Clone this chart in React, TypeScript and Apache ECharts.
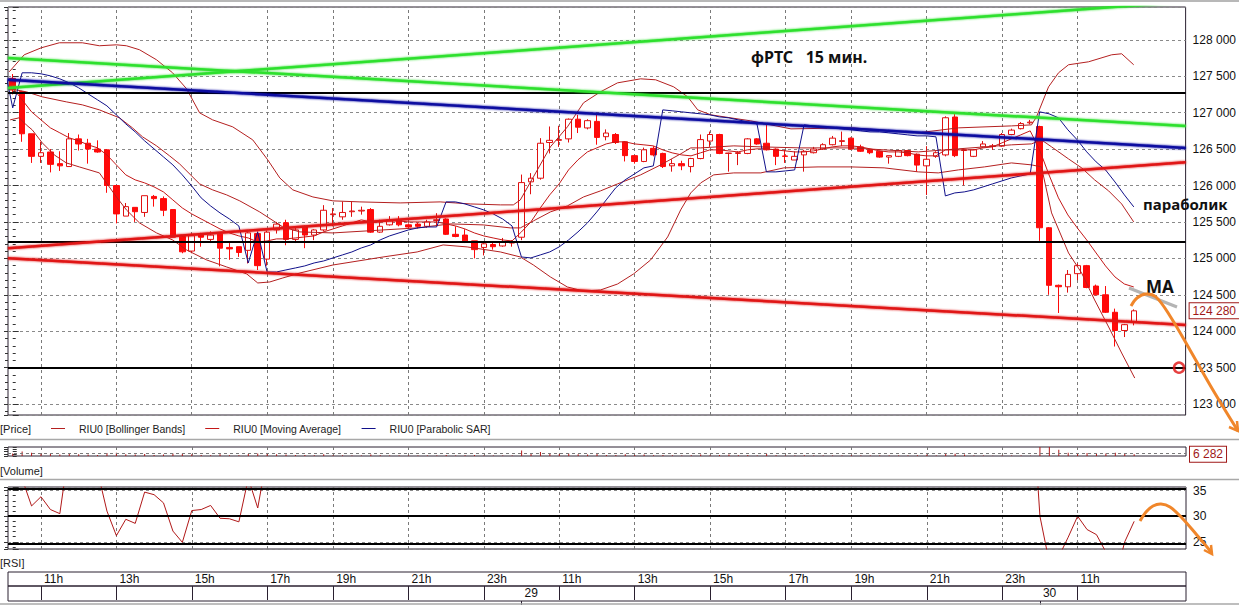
import React, { useEffect, useRef } from "react";
import * as echarts from "echarts";

// ---------- time slots (15 min candles, RIU0) ----------
const sessions: Array<[number, string, string]> = [
  [28, "10:15", "18:30"],
  [28, "19:00", "23:45"],
  [29, "10:00", "18:30"],
  [29, "19:00", "23:45"],
  [30, "10:00", "12:30"],
];
const emptySlotsAfter = 5;

function quarterSlots(day: number, from: string, to: string): string[] {
  const [fh, fm] = from.split(":").map(Number);
  const [th, tm] = to.split(":").map(Number);
  const out: string[] = [];
  for (let t = fh * 60 + fm; t <= th * 60 + tm; t += 15) {
    out.push(`${day} ${String(Math.floor(t / 60)).padStart(2, "0")}:${String(t % 60).padStart(2, "0")}`);
  }
  return out;
}
const categories: string[] = [];
sessions.forEach(([d, a, b]) => categories.push(...quarterSlots(d, a, b)));
for (let k = 1; k <= emptySlotsAfter; k++) categories.push(`+${k}`);

// ---------- candles [open, close, low, high] ----------
const day28Candles: number[][] = [
  [127470, 127310, 127250, 127530], [127290, 126710, 126600, 127300], [126710, 126400, 126310, 126710],
  [126400, 126450, 126310, 126600], [126460, 126290, 126180, 126500], [126300, 126270, 126200, 126470],
  [126260, 126640, 126260, 126720], [126640, 126570, 126480, 126700], [126580, 126500, 126300, 126640],
  [126500, 126460, 126450, 126620], [126490, 126000, 125900, 126500], [126000, 125610, 125480, 126000],
  [125580, 125710, 125580, 125760], [125700, 125640, 125500, 125700], [125630, 125860, 125570, 125860],
  [125850, 125820, 125710, 125870], [125820, 125660, 125580, 125850], [125670, 125290, 125290, 125670],
  [125300, 125090, 125070, 125320], [125100, 125310, 125070, 125340], [125330, 125290, 125160, 125350],
  [125260, 125320, 125210, 125370], [125340, 125140, 124890, 125340], [125150, 125130, 124980, 125210],
  [125160, 125080, 125020, 125160], [125110, 125350, 124930, 125370], [125340, 124900, 124840, 125370],
  [124990, 125360, 124900, 125380], [125390, 125470, 125340, 125500], [125490, 125260, 125180, 125530],
  [125260, 125390, 125210, 125420], [125440, 125320, 125140, 125450], [125320, 125390, 125250, 125400],
  [125390, 125660, 125370, 125730], [125600, 125610, 125440, 125690], [125570, 125630, 125530, 125780],
  [125640, 125650, 125570, 125780], [125650, 125660, 125600, 125710], [125670, 125360, 125350, 125690],
  [125360, 125440, 125350, 125530], [125460, 125530, 125450, 125580], [125530, 125460, 125440, 125580],
  [125460, 125430, 125400, 125480], [125470, 125440, 125410, 125490], [125440, 125500, 125420, 125530],
  [125520, 125530, 125440, 125620], [125540, 125330, 125320, 125550], [125330, 125300, 125290, 125440],
  [125320, 125240, 125210, 125400], [125240, 125120, 125000, 125240], [125150, 125200, 125040, 125230],
  [125190, 125160, 125120, 125210], [125170, 125230, 125160, 125280], [125210, 125220, 125160, 125250],
];
const day29Candles: number[][] = [
  [125290, 126040, 125250, 126150], [126050, 126100, 125880, 126170], [126100, 126580, 126080, 126650],
  [126590, 126620, 126440, 126810], [126620, 126630, 126530, 126820], [126640, 126910, 126590, 126920],
  [126910, 126800, 126720, 126970], [126790, 126890, 126770, 126910], [126880, 126660, 126560, 126970],
  [126670, 126720, 126620, 126770], [126700, 126590, 126570, 126720], [126600, 126410, 126330, 126610],
  [126410, 126330, 126300, 126420], [126330, 126490, 126320, 126520], [126510, 126420, 126400, 126540],
  [126440, 126260, 126240, 126450], [126270, 126300, 126190, 126360], [126300, 126270, 126210, 126340],
  [126260, 126370, 126180, 126380], [126370, 126630, 126360, 126700], [126610, 126700, 126530, 126740],
  [126700, 126440, 126430, 126710], [126440, 126445, 126190, 126450], [126440, 126450, 126280, 126470],
  [126440, 126640, 126430, 126650], [126640, 126570, 126560, 126650], [126580, 126490, 126480, 126850],
  [126500, 126400, 126280, 126510], [126405, 126400, 126310, 126490], [126350, 126400, 126350, 126470],
  [126420, 126470, 126190, 126490], [126450, 126500, 126440, 126530], [126500, 126560, 126490, 126580],
  [126560, 126650, 126550, 126680], [126605, 126615, 126540, 126740], [126650, 126500, 126490, 126660],
  [126530, 126470, 126460, 126560], [126490, 126450, 126430, 126500], [126470, 126390, 126380, 126480],
  [126390, 126410, 126300, 126410], [126400, 126480, 126390, 126490], [126480, 126410, 126400, 126490],
  [126430, 126280, 126190, 126440], [126270, 126360, 125870, 126540], [126400, 126450, 126380, 126470],
  [126420, 126930, 126400, 126950], [126940, 126410, 126390, 126980], [126480, 126490, 126000, 126510],
  [126400, 126490, 126390, 126500], [126530, 126570, 126520, 126610], [126535, 126545, 126490, 126570],
  [126540, 126700, 126530, 126720], [126700, 126760, 126690, 126780], [126780, 126850, 126770, 126870],
  [126860, 126870, 126840, 126900],
];
const day30Candles: number[][] = [
  [126810, 125420, 125240, 126820], [125420, 124630, 124500, 125430], [124630, 124610, 124250, 124640],
  [124610, 124780, 124530, 124840], [124790, 124900, 124700, 124930], [124900, 124600, 124590, 124910],
  [124620, 124500, 124490, 124640], [124500, 124260, 124250, 124620], [124260, 124010, 123790, 124310],
  [124010, 124090, 123920, 124100], [124130, 124280, 124080, 124300],
];
const candles = [...day28Candles, ...day29Candles, ...day30Candles];

// ---------- indicators [slot index, price] ----------
const bbUpper: number[][] = [
  [-0.37, 127560], [1.22, 127794], [3.03, 127890], [4.95, 127959], [7.39, 127959], [9.2, 127918], [11.01, 127931],
  [12.07, 127918], [13.46, 127863], [15.27, 127725], [16.97, 127547], [18.46, 127327], [19.84, 126997], [21.22, 126901],
  [23.35, 126805], [25.48, 126626], [27.07, 126352], [28.35, 126104], [29.73, 125940], [31.86, 125843], [33.99, 125789],
  [36.86, 125775], [41.12, 125761], [45.37, 125775], [48.56, 125747], [51.76, 125734], [53.14, 125734], [53.88, 125802],
  [55.27, 126118], [57.07, 126530], [58.88, 126805], [60.59, 127135], [62.39, 127286], [64.2, 127409], [66.65, 127464],
  [68.24, 127451], [70.16, 127354], [71.65, 127217], [72.71, 127038], [74.1, 126970], [78.35, 126887], [82.61, 126777],
  [89.0, 126791], [96.12, 126723], [100.37, 126791], [106.01, 126818], [108.14, 126832], [108.67, 126942],
  [109.95, 127354], [111.01, 127547], [112.07, 127657], [114.2, 127698], [116.65, 127794], [117.71, 127808], [118.99, 127657],
];
const bbMiddle: number[][] = [
  [-0.4, 127330], [1.44, 127286], [3.14, 127217], [5.69, 127148], [7.39, 127107], [9.2, 127038], [11.33, 126929],
  [12.71, 126791], [13.78, 126668], [15.27, 126544], [16.65, 126407], [17.71, 126297], [19.84, 126022], [21.22, 125940],
  [22.71, 125871], [24.1, 125789], [26.22, 125637], [28.67, 125431], [30.48, 125363], [33.99, 125349], [39.31, 125390],
  [42.93, 125418], [46.44, 125473], [49.95, 125459], [52.82, 125418], [53.88, 125418], [55.27, 125514], [57.07, 125637],
  [58.88, 125720], [60.59, 125843], [62.39, 125926], [64.2, 126022], [66.65, 126146], [68.78, 126283], [70.9, 126434],
  [71.97, 126516], [73.03, 126516], [76.54, 126544], [79.41, 126530], [83.67, 126516], [89.0, 126516], [96.12, 126461],
  [100.37, 126503], [106.01, 126558], [108.14, 126571], [109.2, 126626], [110.27, 126530], [112.07, 126365],
  [113.46, 126242], [114.84, 126077], [116.33, 125926], [117.71, 125747], [118.99, 125500],
];
const bbLower: number[][] = [
  [-0.27, 126901], [0.69, 126929], [1.44, 126832], [2.07, 126764], [3.14, 126585], [4.41, 126420], [5.69, 126310],
  [7.07, 126255], [9.2, 126173], [9.95, 126036], [11.01, 125843], [12.07, 125665], [13.46, 125486], [15.27, 125349],
  [16.97, 125253], [18.46, 125115], [20.59, 124978], [22.71, 124882], [24.84, 124786], [26.01, 124662], [27.29, 124676],
  [28.67, 124731], [30.48, 124799], [33.99, 124909], [39.31, 125019], [42.93, 125088], [45.69, 125184], [48.24, 125157],
  [51.76, 125088], [53.88, 125019], [55.27, 124909], [57.07, 124745], [58.88, 124607], [60.59, 124552], [62.39, 124566],
  [64.2, 124648], [65.9, 124786], [67.71, 124978], [69.52, 125294], [70.9, 125665], [71.97, 125898], [73.03, 126036],
  [74.41, 126146], [76.54, 126173], [79.41, 126173], [81.86, 126242], [85.48, 126255], [89.0, 126255], [92.5, 126242],
  [96.12, 126187], [98.24, 126173], [100.37, 126214], [103.14, 126255], [106.01, 126310], [108.14, 126283],
  [109.2, 126255], [110.27, 125624], [112.07, 125074], [113.46, 124800], [114.84, 124429], [116.33, 124058],
  [117.71, 123701], [119.1, 123357],
];
const maValues: number[] = [
  127341, 127176, 127011, 126901, 126791, 126723, 126654, 126613, 126558, 126517,
  126420, 126283, 126146, 126077, 126036, 125981, 125912, 125802, 125692, 125610,
  125541, 125473, 125404, 125349, 125308, 125280, 125225, 125239, 125267, 125267,
  125280, 125294, 125308, 125363, 125404, 125445, 125486, 125528, 125500, 125500,
  125514, 125514, 125500, 125500, 125500, 125500, 125473, 125445, 125404, 125349,
  125308, 125280, 125253, 125239, 125363, 125500, 125692, 125871, 126022, 126214,
  126352, 126461, 126516, 126571, 126599, 126599, 126571, 126558, 126544, 126489,
  126448, 126420, 126407, 126448, 126489, 126489, 126475, 126461, 126489, 126503,
  126503, 126489, 126475, 126461, 126461, 126475, 126503, 126530, 126544, 126544,
  126530, 126503, 126475, 126461, 126461, 126448, 126420, 126407, 126407, 126489,
  126489, 126489, 126489, 126516, 126530, 126585, 126640, 126695, 126750, 126489,
  126146, 125830, 125596, 125418, 125253, 125074, 124896, 124745, 124648, 124607,
];
const sarBefore: number[] = [-1, 127698];
const sarValues: number[] = [
  127066, 127547, 127547, 127533, 127505, 127464, 127409, 127341, 127258, 127176,
  127093, 126970, 126846, 126736, 126613, 126503, 126393, 126283, 126146, 125994,
  125830, 125720, 125624, 125541, 125445, 124937, 125363, 124813, 124813, 124841,
  124868, 124896, 124937, 124964, 125006, 125047, 125088, 125143, 125184, 125253,
  125308, 125349, 125390, 125418, 125431, 125431, 125775, 125775, 125747, 125706,
  125665, 125610, 125541, 125445, 125019, 125006, 125047, 125088, 125157, 125253,
  125363, 125486, 125637, 125802, 125967, 126077, 126159, 126242, 126269, 127038,
  127025, 127011, 126997, 126984, 126970, 126942, 126929, 126901, 126874, 126846,
  126187, 126187, 126200, 126214, 126832, 126819, 126805, 126791, 126778, 126764,
  126750, 126736, 126736, 126723, 126709, 126695, 126681, 126681, 126668, 125857,
  125898, 125912, 125940, 125981, 126022, 126063, 126104, 126132, 126159, 127011,
  126984, 126929, 126764, 126626, 126462, 126324, 126214, 126049, 125871, 125706,
];
const rsiValues: number[] = [
  55, 37.3, 32.0, 33.8, 31.3, 30.5, 43.5, 42, 40, 38.8,
  31.0, 26.2, 29.4, 28.6, 34.7, 34.2, 32.6, 27.1, 24.9, 31.1,
  31.3, 32.1, 29.6, 29.5, 28.9, 37.4, 31.6, 41.9, 45, 40,
  43, 41, 43, 50, 50, 51, 52, 52, 44, 46,
  48, 46, 45, 45, 47, 47, 41, 40, 39, 37,
  38, 38, 39, 39, 58, 59, 66, 66, 66, 70,
  67, 68, 61, 62, 59, 54, 52, 55, 54, 50,
  51, 50, 52, 57, 58, 52, 52, 52, 56, 54,
  52, 50, 50, 50, 51, 52, 54, 56, 55, 51,
  50, 49, 48, 48, 50, 48, 45, 47, 48, 58,
  47, 49, 49, 51, 51, 54, 55, 57, 58, 30.0,
  20.9, 22.1, 25.9, 30.0, 27.4, 26.4, 23.0, 18.0, 25.0, 29.0,
];
const volumes: number[] = [
  9000, 16000, 12000, 8000, 7000, 5000, 9000, 6000, 5000, 4000,
  11000, 12000, 6000, 5000, 7000, 4000, 5000, 9000, 8000, 6000,
  4000, 3000, 6000, 3000, 3000, 7000, 9000, 8000, 6000, 5000,
  4000, 4000, 3000, 6000, 3000, 3000, 2000, 2000, 5000, 3000,
  2000, 2000, 2000, 2000, 2000, 2000, 4000, 2000, 3000, 4000,
  2000, 2000, 2000, 2000, 20000, 9000, 14000, 8000, 7000, 9000,
  6000, 5000, 7000, 4000, 4000, 6000, 4000, 5000, 3000, 4000,
  3000, 2000, 3000, 5000, 3000, 4000, 5000, 3000, 4000, 2000,
  7000, 3000, 2000, 2000, 3000, 2000, 2000, 2000, 2000, 3000,
  2000, 2000, 2000, 2000, 2000, 2000, 3000, 5000, 2000, 7000,
  8000, 5000, 2000, 2000, 1000, 2000, 2000, 2000, 1000, 45000,
  40000, 22000, 12000, 10000, 11000, 9000, 9000, 12000, 8000, 6282,
];

// ---------- hand-drawn levels ----------
const greenRising: number[][] = [[-0.5, 127339], [124.5, 128522]];
const greenFalling: number[][] = [[-0.5, 127749], [124.5, 126815]];
const blueFalling: number[][] = [[-0.5, 127451], [124.5, 126516]];
const redRising: number[][] = [[-0.5, 125139], [124.5, 126319]];
const redFalling: number[][] = [[-0.5, 125001], [124.5, 124086]];
const blackLevels: number[] = [127276, 125232, 123500];
const rsiLevels: number[] = [35.3, 30, 24.7];
const targetMark: number[][] = [[123.8, 123500]];

// ---------- helpers ----------
const fmt = (v: number) => String(Math.round(v)).replace(/\B(?=(\d{3})+(?!\d))/g, " ");
function hourLabel(c: string): string {
  const m = /^(\d+) (\d\d):(\d\d)$/.exec(c);
  if (!m) return "";
  const h = Number(m[2]);
  return m[3] === "00" && h % 2 === 1 && h >= 11 ? `${h}h` : "";
}
const dayOf = (c: string) => (/^(\d+) /.exec(c) || [])[1] || "";
const hourIdx = categories.map((c, i) => (hourLabel(c) ? i : -1)).filter((i) => i >= 0);
const hourSet = new Set(hourIdx);
const dateIdx = categories
  .map((c, i) => (i > 0 && dayOf(c) && dayOf(c) !== dayOf(categories[i - 1]) ? i : -1))
  .filter((i) => i >= 0);
const dateSet = new Set(dateIdx);

const N = categories.length;
const LEFT = 8;
const PW = 1178;
const FRAME = "#2a2030";
const FONT = "Liberation Sans";
const CLEAR = "rgba(0,0,0,0)";

function catAxis(g: number) {
  return { type: "category", gridIndex: g, data: categories, boundaryGap: true, show: false };
}
function valAxis(g: number) {
  return { type: "value", gridIndex: g, min: -0.5, max: N - 0.5, show: false };
}
function vGridSeries(xi: number, yi: number, y: number) {
  return {
    type: "line", xAxisIndex: xi, yAxisIndex: yi, data: [[-0.5, y]], showSymbol: false, silent: true,
    lineStyle: { color: CLEAR }, z: 1,
    markLine: {
      silent: true, z: 1, symbol: ["none", "none"], label: { show: false },
      lineStyle: { color: "#7a7a7a", width: 1, type: [3, 3] },
      data: hourIdx.map((i) => ({ xAxis: i })),
    },
  };
}
function trendSeries(data: number[][], color: string) {
  return {
    type: "line", xAxisIndex: 1, yAxisIndex: 0, data, showSymbol: false, silent: true, z: 6,
    lineStyle: { color, width: 2.5, shadowColor: color, shadowBlur: 2 },
  };
}
const boxLabel = {
  show: true, position: "end", distance: 4, formatter: (p: any) => fmt(p.value),
  color: "#a01818", fontSize: 12, fontFamily: FONT, backgroundColor: "#fff",
  borderColor: "#a01818", borderWidth: 1, padding: [2, 3, 1, 3],
};

const option: any = {
  animation: false,
  backgroundColor: "#ffffff",
  textStyle: { fontFamily: FONT },
  grid: [
    { left: LEFT, top: 7, width: PW, height: 408, show: true, borderColor: FRAME, borderWidth: 1 },
    { left: LEFT, top: 447, width: PW, height: 9, show: true, borderColor: FRAME, borderWidth: 1 },
    { left: LEFT, top: 487, width: PW, height: 62, show: true, borderColor: FRAME, borderWidth: 1 },
    { left: LEFT, top: 572, width: PW, height: 14, show: true, borderColor: FRAME, borderWidth: 1 },
    { left: LEFT, top: 586, width: PW, height: 15, show: true, borderColor: FRAME, borderWidth: 1 },
  ],
  legend: {
    data: ["RIU0 [Bollinger Bands]", "RIU0 [Moving Average]", "RIU0 [Parabolic SAR]"],
    left: 51, top: 423, padding: 0, icon: "rect", itemWidth: 14, itemHeight: 1, itemGap: 20,
    selectedMode: false,
    textStyle: { fontSize: 10.5, color: "#222", fontFamily: FONT, padding: [0, 0, 0, 9] },
  },
  xAxis: [
    catAxis(0), valAxis(0), catAxis(1), valAxis(1), catAxis(2), valAxis(2),
    {
      type: "category", gridIndex: 3, data: categories, boundaryGap: true, position: "top",
      axisLine: { show: false },
      axisTick: { show: true, inside: true, length: 14, alignWithLabel: true, interval: (i: number) => hourSet.has(i), lineStyle: { color: FRAME } },
      axisLabel: {
        show: true, inside: true, margin: 1, interval: (i: number) => hourSet.has(i),
        formatter: (v: string) => hourLabel(v), align: "left", verticalAlign: "top",
        padding: [0, 0, 0, 3], fontSize: 12, color: "#111", fontFamily: FONT,
      },
      splitLine: { show: false },
    },
    {
      type: "category", gridIndex: 4, data: categories, boundaryGap: true, position: "top",
      axisLine: { show: false },
      axisTick: { show: true, inside: true, length: 15, alignWithLabel: true, interval: (i: number) => dateSet.has(i), lineStyle: { color: FRAME } },
      axisLabel: {
        show: true, inside: true, margin: 1, interval: (i: number) => dateSet.has(i),
        formatter: (v: string) => dayOf(v), align: "left", verticalAlign: "top",
        padding: [0, 0, 0, 3], fontSize: 12, color: "#111", fontFamily: FONT,
      },
      splitLine: { show: false },
    },
  ],
  yAxis: [
    {
      type: "value", gridIndex: 0, position: "right", min: 122850, max: 128450, minInterval: 500, maxInterval: 500,
      axisLine: { show: false },
      axisTick: { show: true, length: 6, lineStyle: { color: "#333" } },
      minorTick: { show: true, splitNumber: 5, length: 3, lineStyle: { color: "#333" } },
      axisLabel: { formatter: (v: number) => (v % 500 === 0 ? fmt(v) : ""), fontSize: 12, color: "#111", margin: 7 },
      splitLine: { show: true, lineStyle: { color: "#8a8a8a", width: 1, type: [3, 3] } },
    },
    {
      type: "value", gridIndex: 0, position: "left", min: 122850, max: 128450, minInterval: 500, maxInterval: 500,
      axisLine: { show: false }, axisLabel: { show: false }, splitLine: { show: false },
      axisTick: { show: true, length: 4, lineStyle: { color: "#333" } },
      minorTick: { show: true, splitNumber: 5, length: 3, lineStyle: { color: "#333" } },
    },
    {
      type: "value", gridIndex: 1, position: "right", min: 0, max: 32000, interval: 8000,
      axisLine: { show: false }, axisLabel: { show: false }, splitLine: { show: false },
      axisTick: { show: true, length: 4, lineStyle: { color: "#333" } },
    },
    {
      type: "value", gridIndex: 1, position: "left", min: 0, max: 32000, interval: 8000,
      axisLine: { show: false }, axisLabel: { show: false }, splitLine: { show: false },
      axisTick: { show: true, length: 4, lineStyle: { color: "#333" } },
    },
    {
      type: "value", gridIndex: 2, position: "right", min: 23.6, max: 35.7, minInterval: 5, maxInterval: 5,
      axisLine: { show: false },
      axisTick: { show: true, length: 6, lineStyle: { color: "#333" } },
      minorTick: { show: true, splitNumber: 5, length: 3, lineStyle: { color: "#333" } },
      axisLabel: { formatter: (v: number) => (Math.abs(v % 5) < 1e-9 ? String(v) : ""), fontSize: 12, color: "#111", margin: 7 },
      splitLine: { show: true, lineStyle: { color: "#8a8a8a", width: 1, type: [3, 3] } },
    },
    {
      type: "value", gridIndex: 2, position: "left", min: 23.6, max: 35.7, minInterval: 5, maxInterval: 5,
      axisLine: { show: false }, axisLabel: { show: false }, splitLine: { show: false },
      axisTick: { show: true, length: 4, lineStyle: { color: "#333" } },
      minorTick: { show: true, splitNumber: 5, length: 3, lineStyle: { color: "#333" } },
    },
    { type: "value", gridIndex: 3, show: false },
    { type: "value", gridIndex: 4, show: false },
  ],
  series: [
    vGridSeries(1, 0, 125000),
    vGridSeries(3, 2, 0),
    vGridSeries(5, 4, 30),
    {
      type: "candlestick", name: "Price", xAxisIndex: 0, yAxisIndex: 0, data: candles, barWidth: 6, z: 3,
      itemStyle: { color: "#ffffff", color0: "#ff0a0a", borderColor: "#e01010", borderColor0: "#ff0a0a", borderWidth: 1 },
      markLine: {
        silent: true, symbol: ["none", "none"], lineStyle: { color: CLEAR, width: 1 },
        data: [{ yAxis: candles[candles.length - 1][1], label: boxLabel }],
      },
    },
    { type: "line", name: "RIU0 [Bollinger Bands]", color: "#b42020", xAxisIndex: 1, yAxisIndex: 0, data: bbUpper, showSymbol: false, z: 4, lineStyle: { width: 1, color: "#b42020" } },
    { type: "line", name: "RIU0 [Bollinger Bands]", color: "#b42020", xAxisIndex: 1, yAxisIndex: 0, data: bbMiddle, showSymbol: false, z: 4, lineStyle: { width: 1, color: "#b42020" } },
    { type: "line", name: "RIU0 [Bollinger Bands]", color: "#b42020", xAxisIndex: 1, yAxisIndex: 0, data: bbLower, showSymbol: false, z: 4, lineStyle: { width: 1, color: "#b42020" } },
    { type: "line", name: "RIU0 [Moving Average]", color: "#c41818", xAxisIndex: 0, yAxisIndex: 0, data: maValues, showSymbol: false, z: 4, lineStyle: { width: 1, color: "#c41818" } },
    { type: "line", name: "RIU0 [Parabolic SAR]", color: "#10108a", xAxisIndex: 1, yAxisIndex: 0, data: [sarBefore, ...sarValues.map((v, i) => [i, v])], showSymbol: false, z: 4, lineStyle: { width: 1, color: "#10108a" } },
    trendSeries(greenRising, "#2ee02e"),
    trendSeries(greenFalling, "#2ee02e"),
    trendSeries(blueFalling, "#0a0aa0"),
    trendSeries(redRising, "#e01414"),
    trendSeries(redFalling, "#e01414"),
    {
      type: "line", xAxisIndex: 1, yAxisIndex: 0, data: [[-0.5, 125000]], showSymbol: false, silent: true, lineStyle: { color: CLEAR },
      markLine: { silent: true, z: 6, symbol: ["none", "none"], label: { show: false }, lineStyle: { color: "#000", width: 2, type: "solid" }, data: blackLevels.map((v) => ({ yAxis: v })) },
    },
    {
      type: "scatter", xAxisIndex: 1, yAxisIndex: 0, data: targetMark, symbol: "circle", symbolSize: 10, z: 7, silent: true,
      itemStyle: { color: CLEAR, borderColor: "#e01010", borderWidth: 2.5 },
    },
    {
      type: "bar", xAxisIndex: 2, yAxisIndex: 2, data: volumes, barWidth: 1, itemStyle: { color: "#b01818" }, z: 3,
      markLine: {
        silent: true, symbol: ["none", "none"],
        data: [
          { yAxis: 11000, lineStyle: { color: "#7a7a7a", width: 1, type: [3, 3] }, label: { show: false } },
          { yAxis: volumes[volumes.length - 1], lineStyle: { color: CLEAR, width: 1 }, label: boxLabel },
        ],
      },
    },
    {
      type: "line", xAxisIndex: 4, yAxisIndex: 4, data: rsiValues, showSymbol: false, z: 4,
      lineStyle: { width: 1, color: "#b01818" },
      markLine: { silent: true, z: 5, symbol: ["none", "none"], label: { show: false }, lineStyle: { color: "#000", width: 2, type: "solid" }, data: rsiLevels.map((v) => ({ yAxis: v })) },
    },
  ],
  graphic: [
    { type: "line", z: 50, silent: true, shape: { x1: 0, y1: 1, x2: 1239, y2: 1 }, style: { stroke: "#b8b8b8", lineWidth: 2 } },
    { type: "line", z: 50, silent: true, shape: { x1: 0, y1: 439.5, x2: 1239, y2: 439.5 }, style: { stroke: "#a8a8a8", lineWidth: 1.5 } },
    { type: "line", z: 50, silent: true, shape: { x1: 0, y1: 479.5, x2: 1239, y2: 479.5 }, style: { stroke: "#a8a8a8", lineWidth: 1.5 } },
    { type: "line", z: 50, silent: true, shape: { x1: 0, y1: 604, x2: 1239, y2: 604 }, style: { stroke: "#a8a8a8", lineWidth: 1.5 } },
    { type: "text", z: 50, silent: true, x: 0, y: 429, style: { text: "[Price]", fill: "#222", font: `11px "${FONT}"`, textVerticalAlign: "middle", verticalAlign: "middle" } },
    { type: "text", z: 50, silent: true, x: 0, y: 471, style: { text: "[Volume]", fill: "#222", font: `11px "${FONT}"`, textVerticalAlign: "middle", verticalAlign: "middle" } },
    { type: "text", z: 50, silent: true, x: 0, y: 563, style: { text: "[RSI]", fill: "#222", font: `11px "${FONT}"`, textVerticalAlign: "middle", verticalAlign: "middle" } },
    { type: "text", z: 60, silent: true, x: 751, y: 57, style: { text: "фРТС   15 мин.", fill: "#111", font: 'bold 16px "Noto Sans"', textVerticalAlign: "middle", verticalAlign: "middle" } },
    { type: "text", z: 60, silent: true, x: 1143, y: 204, style: { text: "параболик", fill: "#111", font: 'bold 15px "Noto Sans"', textVerticalAlign: "middle", verticalAlign: "middle" } },
    { type: "text", z: 60, silent: true, x: 1146, y: 286, style: { text: "MA", fill: "#111", font: 'bold 17px "Noto Sans"', textVerticalAlign: "middle", verticalAlign: "middle" } },
    { type: "line", z: 60, silent: true, shape: { x1: 1129, y1: 288, x2: 1177, y2: 307 }, style: { stroke: "#b4b4b4", lineWidth: 3 } },
    {
      type: "polyline", z: 61, silent: true,
      shape: { points: [[1131, 306], [1137, 298], [1146, 294], [1156, 297], [1170, 316], [1190, 350], [1210, 385], [1225, 410], [1238, 431]], smooth: 0.35 },
      style: { stroke: "#f0862a", lineWidth: 3, fill: null },
    },
    { type: "polyline", z: 61, silent: true, shape: { points: [[1229, 427], [1238, 431], [1237, 421]] }, style: { stroke: "#f0862a", lineWidth: 2.5, fill: null } },
    {
      type: "polyline", z: 61, silent: true,
      shape: { points: [[1140, 521], [1146, 512], [1153, 506], [1161, 504], [1170, 507], [1182, 518], [1196, 534], [1212, 553]], smooth: 0.35 },
      style: { stroke: "#f0862a", lineWidth: 3, fill: null },
    },
    { type: "polyline", z: 61, silent: true, shape: { points: [[1204, 550], [1212, 554], [1211, 545]] }, style: { stroke: "#f0862a", lineWidth: 2.5, fill: null } },
  ],
};

export default function App() {
  const ref = useRef<HTMLDivElement>(null);
  useEffect(() => {
    if (!ref.current) return;
    const chart = echarts.init(ref.current, undefined, { renderer: "svg" });
    chart.setOption(option);
    return () => chart.dispose();
  }, []);
  return (
    <div
      ref={ref}
      style={{ position: "fixed", left: 0, top: 0, width: 1239, height: 605, background: "#fff" }}
    />
  );
}
